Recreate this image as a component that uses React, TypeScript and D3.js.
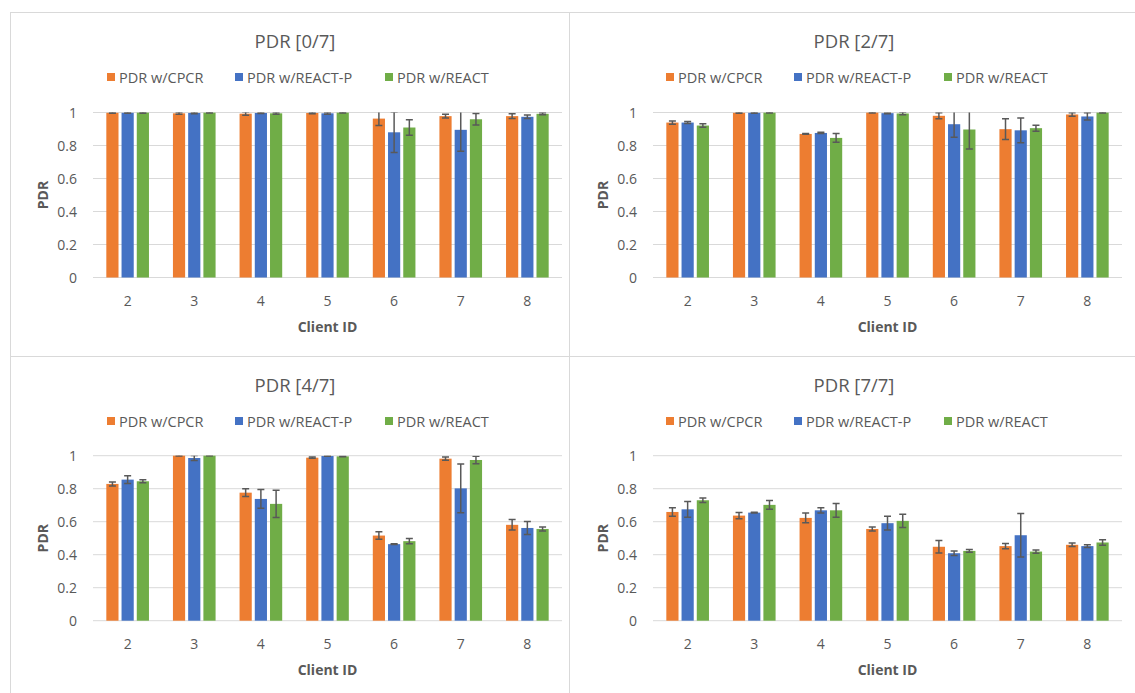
import React from "react";
import * as d3 from "d3";

const categories = ["2", "3", "4", "5", "6", "7", "8"];
const seriesNames = ["PDR w/CPCR", "PDR w/REACT-P", "PDR w/REACT"];
const seriesColors = ["#ED7D31", "#4472C4", "#70AD47"];
const yTicks = [0, 0.2, 0.4, 0.6, 0.8, 1];

const titles = ["PDR [0/7]", "PDR [2/7]", "PDR [4/7]", "PDR [7/7]"];

// Panel [0/7]
const cpcr0 = [0.998, 0.995, 0.993, 0.997, 0.963, 0.978, 0.978];
const cpcr0Err = [0.003, 0.006, 0.01, 0.004, 0.042, 0.012, 0.015];
const reactP0 = [0.998, 0.997, 0.997, 0.995, 0.88, 0.895, 0.974];
const reactP0Err = [0.003, 0.004, 0.003, 0.005, 0.123, 0.13, 0.011];
const react0 = [0.999, 0.999, 0.995, 0.999, 0.909, 0.959, 0.992];
const react0Err = [0.003, 0.002, 0.005, 0.002, 0.047, 0.035, 0.006];

// Panel [2/7]
const cpcr2 = [0.939, 0.998, 0.87, 0.999, 0.98, 0.899, 0.988];
const cpcr2Err = [0.01, 0.003, 0.002, 0.002, 0.018, 0.063, 0.01];
const reactP2 = [0.939, 0.998, 0.876, 0.996, 0.929, 0.892, 0.976];
const reactP2Err = [0.006, 0.003, 0.004, 0.003, 0.079, 0.075, 0.022];
const react2 = [0.921, 0.999, 0.846, 0.994, 0.897, 0.905, 0.999];
const react2Err = [0.011, 0.002, 0.026, 0.008, 0.118, 0.018, 0.002];

// Panel [4/7]
const cpcr4 = [0.829, 1.0, 0.776, 0.988, 0.516, 0.982, 0.581];
const cpcr4Err = [0.012, 0.002, 0.024, 0.004, 0.023, 0.01, 0.032];
const reactP4 = [0.855, 0.986, 0.738, 0.998, 0.464, 0.802, 0.562];
const reactP4Err = [0.024, 0.015, 0.057, 0.002, 0.002, 0.147, 0.039];
const react4 = [0.845, 1.0, 0.708, 0.996, 0.482, 0.974, 0.556];
const react4Err = [0.009, 0.001, 0.083, 0.002, 0.016, 0.023, 0.012];

// Panel [7/7]
const cpcr7 = [0.659, 0.637, 0.623, 0.556, 0.448, 0.452, 0.46];
const cpcr7Err = [0.026, 0.019, 0.029, 0.012, 0.038, 0.016, 0.011];
const reactP7 = [0.675, 0.655, 0.669, 0.591, 0.409, 0.518, 0.452];
const reactP7Err = [0.048, 0.002, 0.016, 0.042, 0.014, 0.132, 0.009];
const react7 = [0.73, 0.702, 0.669, 0.605, 0.423, 0.419, 0.474];
const react7Err = [0.013, 0.026, 0.042, 0.04, 0.008, 0.01, 0.016];

const panelData = [
  { values: [cpcr0, reactP0, react0], errs: [cpcr0Err, reactP0Err, react0Err] },
  { values: [cpcr2, reactP2, react2], errs: [cpcr2Err, reactP2Err, react2Err] },
  { values: [cpcr4, reactP4, react4], errs: [cpcr4Err, reactP4Err, react4Err] },
  { values: [cpcr7, reactP7, react7], errs: [cpcr7Err, reactP7Err, react7Err] },
];

const W = 1135;
const H = 693;
const FONT = "'Open Sans', 'Noto Sans', sans-serif";
const TXT = "#595959";
const GRID = "#D9D9D9";

const panels = [
  { x: 10, y: 12, w: 559, h: 344 },
  { x: 569, y: 12, w: 566, h: 344 },
  { x: 10, y: 356, w: 559, h: 340 },
  { x: 569, y: 356, w: 566, h: 340 },
];

function Panel({ idx }: { idx: number }) {
  const p = panels[idx];
  const data = panelData[idx];
  const plotLeft = idx % 2 === 0 ? 83 : 84;
  const plotTop = idx < 2 ? 100.5 : 99.7;
  const plotW = 469;
  const plotH = 165;

  const x0 = d3
    .scaleBand<string>()
    .domain(categories)
    .range([0, plotW])
    .paddingInner(0.36)
    .paddingOuter(0.2);
  const x1 = d3
    .scaleBand<string>()
    .domain(seriesNames)
    .range([0, x0.bandwidth()])
    .paddingInner(0.2)
    .paddingOuter(0);
  const y = d3.scaleLinear().domain([0, 1]).range([plotH, 0]);
  const clipId = `clip-${idx}`;

  const legendX = [97, 225, 375];

  return (
    <g transform={`translate(${p.x},${p.y})`}>
      <rect x={0.5} y={0.5} width={p.w} height={p.h} fill="#fff" stroke={GRID} strokeWidth={1} />
      <text
        x={285}
        y={28}
        textAnchor="middle"
        dominantBaseline="central"
        fontSize={18.5}
        fill={TXT}
        fontFamily={FONT}
      >
        {titles[idx]}
      </text>
      {seriesNames.map((s, i) => (
        <g key={s} transform={`translate(${legendX[i]},65)`}>
          <rect x={0} y={-4} width={8} height={8} fill={seriesColors[i]} />
          <text x={12} y={0} dominantBaseline="central" fontSize={14.5} fill={TXT} fontFamily={FONT}>
            {s}
          </text>
        </g>
      ))}
      <g transform={`translate(${plotLeft},${plotTop})`}>
        <defs>
          <clipPath id={clipId}>
            <rect x={-10} y={y(1)} width={plotW + 20} height={plotH + 2} />
          </clipPath>
        </defs>
        {yTicks.map((t) => (
          <g key={t}>
            <line x1={0} x2={plotW} y1={y(t)} y2={y(t)} stroke={GRID} strokeWidth={1} />
            <text
              x={-16}
              y={y(t)}
              textAnchor="end"
              dominantBaseline="central"
              fontSize={14}
              fill={TXT}
              fontFamily={FONT}
            >
              {t === 0 || t === 1 ? String(t) : t.toFixed(1)}
            </text>
          </g>
        ))}
        {categories.map((c, ci) => (
          <g key={c} transform={`translate(${x0(c)},0)`}>
            {seriesNames.map((s, si) => {
              const v = data.values[si][ci];
              return (
                <rect
                  key={s}
                  x={x1(s)}
                  y={y(v)}
                  width={x1.bandwidth()}
                  height={y(0) - y(v)}
                  fill={seriesColors[si]}
                />
              );
            })}
          </g>
        ))}
        <g clipPath={`url(#${clipId})`}>
          {categories.map((c, ci) =>
            seriesNames.map((s, si) => {
              const v = data.values[si][ci];
              const e = data.errs[si][ci];
              const cx = (x0(c) as number) + (x1(s) as number) + x1.bandwidth() / 2;
              const yHi = y(v + e);
              const yLo = y(v - e);
              return (
                <g key={c + s} stroke="#595959" strokeWidth={1.5}>
                  <line x1={cx} x2={cx} y1={yHi} y2={yLo} />
                  <line x1={cx - 3.5} x2={cx + 3.5} y1={yHi} y2={yHi} />
                  <line x1={cx - 3.5} x2={cx + 3.5} y1={yLo} y2={yLo} />
                </g>
              );
            })
          )}
        </g>
        {categories.map((c) => (
          <text
            key={c}
            x={(x0(c) as number) + x0.bandwidth() / 2}
            y={plotH + 23}
            textAnchor="middle"
            dominantBaseline="central"
            fontSize={14}
            fill={TXT}
            fontFamily={FONT}
          >
            {c}
          </text>
        ))}
        <text
          x={plotW / 2}
          y={plotH + 49}
          textAnchor="middle"
          dominantBaseline="central"
          fontSize={14}
          fontWeight="bold"
          fill={TXT}
          fontFamily={FONT}
        >
          Client ID
        </text>
        <text
          transform={`translate(${-51},${plotH / 2}) rotate(-90)`}
          textAnchor="middle"
          dominantBaseline="central"
          fontSize={14}
          fontWeight="bold"
          fill={TXT}
          fontFamily={FONT}
        >
          PDR
        </text>
      </g>
    </g>
  );
}

export default function App() {
  return (
    <svg
      width={W}
      height={H}
      style={{ position: "fixed", left: 0, top: 0, background: "#fff" }}
    >
      <rect width={W} height={H} fill="#fff" />
      {panels.map((_, i) => (
        <Panel key={i} idx={i} />
      ))}
    </svg>
  );
}
